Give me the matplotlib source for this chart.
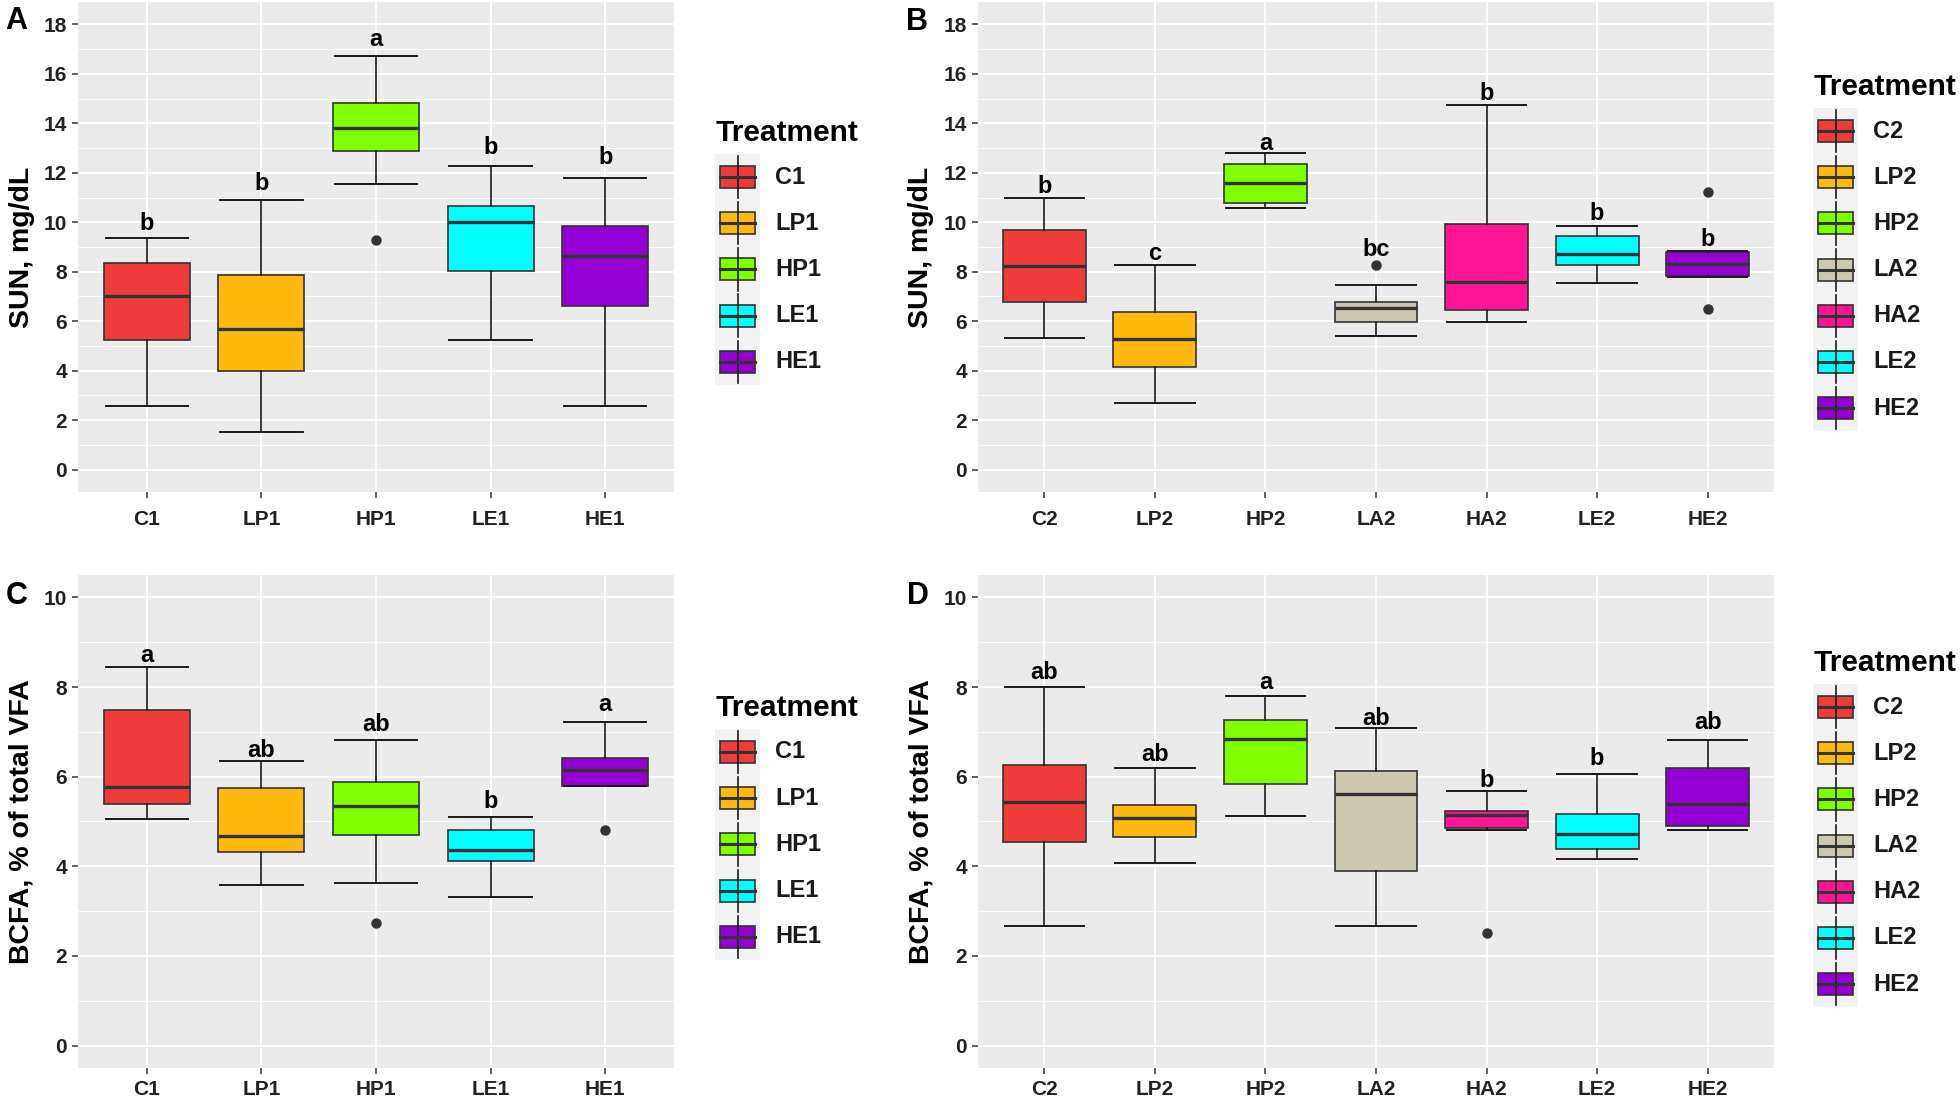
import matplotlib
matplotlib.use("Agg")
import matplotlib.pyplot as plt
from matplotlib.patches import Rectangle
from matplotlib.lines import Line2D
from matplotlib.ticker import MultipleLocator

plt.rcParams["font.family"] = ["Liberation Sans", "DejaVu Sans"]
plt.rcParams["font.weight"] = "bold"

# ---- data ----
sun1_groups = ["C1", "LP1", "HP1", "LE1", "HE1"]
sun1_low = [2.56, 1.51, 11.55, 5.25, 2.56]
sun1_q1 = [5.26, 3.97, 12.89, 8.04, 6.62]
sun1_med = [7.04, 5.69, 13.82, 10.01, 8.63]
sun1_q3 = [8.34, 7.87, 14.80, 10.65, 9.85]
sun1_high = [9.38, 10.91, 16.73, 12.26, 11.78]
sun1_out = [[], [], [9.30], [], []]
sun1_letters = ["b", "b", "a", "b", "b"]
sun1_letter_y = [9.70, 11.31, 17.14, 12.75, 12.35]

sun2_groups = ["C2", "LP2", "HP2", "LA2", "HA2", "LE2", "HE2"]
sun2_low = [5.33, 2.69, 10.59, 5.41, 5.97, 7.56, 7.80]
sun2_q1 = [6.76, 4.14, 10.76, 5.96, 6.44, 8.27, 7.83]
sun2_med = [8.23, 5.29, 11.58, 6.53, 7.60, 8.73, 8.31]
sun2_q3 = [9.70, 6.37, 12.34, 6.76, 9.94, 9.46, 8.78]
sun2_high = [10.97, 8.27, 12.81, 7.47, 14.72, 9.85, 8.85]
sun2_out = [[], [], [], [8.26], [], [], [11.22, 6.50]]
sun2_letters = ["b", "c", "a", "bc", "b", "b", "b"]
sun2_letter_y = [11.17, 8.47, 12.93, 8.63, 14.92, 10.08, 9.03]

bcfa1_groups = ["C1", "LP1", "HP1", "LE1", "HE1"]
bcfa1_low = [5.05, 3.59, 3.63, 3.32, 5.79]
bcfa1_q1 = [5.40, 4.33, 4.70, 4.12, 5.79]
bcfa1_med = [5.78, 4.68, 5.34, 4.37, 6.14]
bcfa1_q3 = [7.48, 5.75, 5.89, 4.82, 6.41]
bcfa1_high = [8.45, 6.34, 6.82, 5.10, 7.22]
bcfa1_out = [[], [], [2.74], [], [4.82]]
bcfa1_letters = ["a", "ab", "ab", "b", "a"]
bcfa1_letter_y = [8.56, 6.44, 7.02, 5.30, 7.47]

bcfa2_groups = ["C2", "LP2", "HP2", "LA2", "HA2", "LE2", "HE2"]
bcfa2_low = [2.66, 4.08, 5.13, 2.66, 4.82, 4.16, 4.82]
bcfa2_q1 = [4.55, 4.65, 5.83, 3.89, 4.85, 4.39, 4.91]
bcfa2_med = [5.43, 5.08, 6.85, 5.61, 5.14, 4.72, 5.38]
bcfa2_q3 = [6.25, 5.36, 7.26, 6.12, 5.23, 5.17, 6.19]
bcfa2_high = [8.01, 6.20, 7.79, 7.09, 5.67, 6.06, 6.82]
bcfa2_out = [[], [], [], [], [2.52], [], []]
bcfa2_letters = ["ab", "ab", "a", "ab", "b", "b", "ab"]
bcfa2_letter_y = [8.17, 6.35, 7.96, 7.15, 5.78, 6.26, 7.07]

treatment_colors = {
    "C": "#EE3B3B", "LP": "#FFB90F", "HP": "#7FFF00", "LA": "#CDC8B1",
    "HA": "#FF1493", "LE": "#00FFFF", "HE": "#9400D3",
}

W, H = 1960, 1102
EDGE = "#333333"
TXT = "#222222"

fig = plt.figure(figsize=(W / 100, H / 100), dpi=100)


def color_of(g):
    return treatment_colors[g[:-1]]


def fx(px):
    return px / W


def fy(py):
    return 1 - py / H


def add_panel(l, t, r, b):
    return fig.add_axes([fx(l), fy(b), (r - l) / W, (b - t) / H])


def draw_panel(ax, groups, low, q1, med, q3, high, out, letters, letter_y,
               ymax, ystep, xpad=8.5):
    stats = []
    for i in range(len(groups)):
        stats.append(dict(whislo=low[i], q1=q1[i], med=med[i], q3=q3[i],
                          whishi=high[i], fliers=out[i]))
    pos = list(range(1, len(groups) + 1))
    bp = ax.bxp(stats, positions=pos, widths=0.75, capwidths=0.72,
                patch_artist=True, showfliers=True,
                boxprops=dict(edgecolor=EDGE, linewidth=1.2),
                medianprops=dict(color=EDGE, linewidth=2.4, solid_capstyle="butt"),
                whiskerprops=dict(color="#1a1a1a", linewidth=1.2),
                capprops=dict(color="#1a1a1a", linewidth=1.4),
                flierprops=dict(marker="o", markerfacecolor=EDGE,
                                markeredgecolor=EDGE, markersize=6.5))
    for patch, g in zip(bp["boxes"], groups):
        patch.set_facecolor(color_of(g))

    for p, lab, y in zip(pos, letters, letter_y):
        ax.text(p, y, lab, ha="center", va="baseline", fontsize=17,
                fontweight="bold", color="black")

    pad = ymax * 0.05
    ax.set_ylim(-pad, ymax + pad)
    ax.set_xlim(0.4, len(groups) + 0.6)
    ax.set_xticks(pos)
    ax.set_xticklabels(groups)
    ax.yaxis.set_major_locator(MultipleLocator(ystep))
    ax.yaxis.set_minor_locator(MultipleLocator(ystep / 2))
    ax.set_facecolor("#EBEBEB")
    ax.set_axisbelow(True)
    ax.grid(which="major", color="white", linewidth=1.3)
    ax.grid(which="minor", axis="y", color="white", linewidth=0.65)
    for s in ax.spines.values():
        s.set_visible(False)
    ax.tick_params(which="major", axis="x", length=4.5, width=1.1, color=EDGE,
                   pad=xpad, labelsize=15, labelcolor=TXT)
    ax.tick_params(which="major", axis="y", length=4.0, width=1.1, color=EDGE,
                   pad=4, labelsize=15, labelcolor=TXT)
    ax.tick_params(which="minor", length=0)
    for lbl in ax.get_xticklabels() + ax.get_yticklabels():
        lbl.set_fontweight("bold")


def draw_legend(groups, x0, y_first, step=46.2):
    fig.text(fx(x0 + 1), fy(y_first - 44), "Treatment", ha="left", va="center",
             fontsize=21.5, fontweight="bold", color="black")
    y_top = y_first - step / 2
    y_bot = y_first + (len(groups) - 0.5) * step
    fig.add_artist(Rectangle((fx(x0), fy(y_bot)), 45 / W, (y_bot - y_top) / H,
                             transform=fig.transFigure, facecolor="#F2F2F2",
                             edgecolor="none"))
    cx = x0 + 22.5
    for i, g in enumerate(groups):
        cy = y_first + i * step
        fig.add_artist(Line2D([fx(cx), fx(cx)],
                              [fy(cy - step / 2 + 2), fy(cy + step / 2 - 2)],
                              transform=fig.transFigure, color="#1a1a1a",
                              linewidth=1.2))
        fig.add_artist(Rectangle((fx(x0 + 5), fy(cy + 11)), 35 / W, 22 / H,
                                 transform=fig.transFigure,
                                 facecolor=color_of(g), edgecolor=EDGE,
                                 linewidth=1.2))
        fig.add_artist(Line2D([fx(x0 + 5), fx(x0 + 40)], [fy(cy), fy(cy)],
                              transform=fig.transFigure, color=EDGE,
                              linewidth=2.2))
        fig.text(fx(x0 + 60), fy(cy), g, ha="left", va="center", fontsize=17,
                 fontweight="bold", color="#1a1a1a")


axA = add_panel(78, 2, 674, 492)
draw_panel(axA, sun1_groups, sun1_low, sun1_q1, sun1_med, sun1_q3, sun1_high,
           sun1_out, sun1_letters, sun1_letter_y, 18, 2)
axB = add_panel(978, 2, 1774, 492)
draw_panel(axB, sun2_groups, sun2_low, sun2_q1, sun2_med, sun2_q3, sun2_high,
           sun2_out, sun2_letters, sun2_letter_y, 18, 2)
axC = add_panel(78, 575, 674, 1068)
draw_panel(axC, bcfa1_groups, bcfa1_low, bcfa1_q1, bcfa1_med, bcfa1_q3,
           bcfa1_high, bcfa1_out, bcfa1_letters, bcfa1_letter_y, 10, 2, xpad=4)
axD = add_panel(978, 575, 1774, 1068)
draw_panel(axD, bcfa2_groups, bcfa2_low, bcfa2_q1, bcfa2_med, bcfa2_q3,
           bcfa2_high, bcfa2_out, bcfa2_letters, bcfa2_letter_y, 10, 2, xpad=4)

# axis titles and panel tags
for x, yc, txt in [(22, 247, "SUN, mg/dL"), (921, 247, "SUN, mg/dL"),
                   (22, 822, "BCFA, % of total VFA"),
                   (921, 822, "BCFA, % of total VFA")]:
    fig.text(fx(x), fy(yc), txt, rotation=90, ha="center", va="center",
             fontsize=20.5, fontweight="bold", color="black")

for x, y, tag in [(16, 21, "A"), (917, 22, "B"), (17, 596, "C"), (918, 596, "D")]:
    fig.text(fx(x), fy(y), tag, ha="center", va="center", fontsize=22,
             fontweight="bold", color="black")

draw_legend(sun1_groups, 715, 177)
draw_legend(sun2_groups, 1813, 131)
draw_legend(bcfa1_groups, 715, 752)
draw_legend(bcfa2_groups, 1813, 707)

fig.savefig("out.png", dpi=100)
plt.close(fig)
